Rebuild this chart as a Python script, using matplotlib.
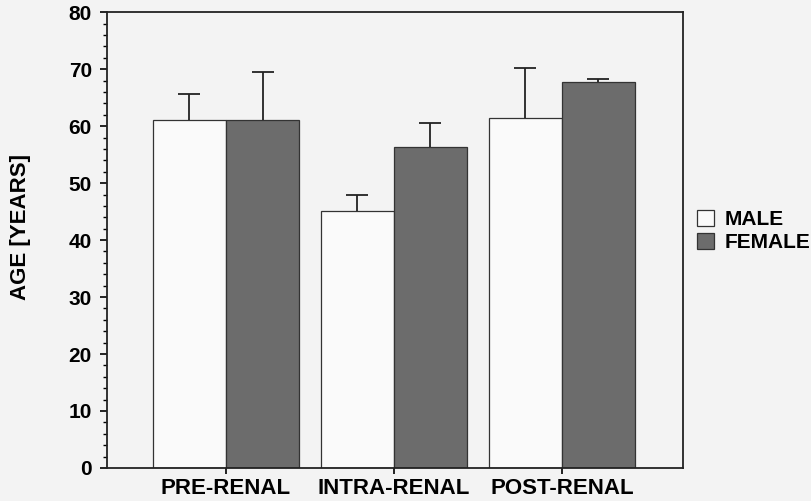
import numpy as np
import matplotlib
matplotlib.use("Agg")
from matplotlib import pyplot as plt
from matplotlib.ticker import MultipleLocator

# 数据
categories = ["PRE-RENAL", "INTRA-RENAL", "POST-RENAL"]
male = [61.1, 45.1, 61.4]
male_err = [4.5, 2.8, 8.8]
female = [61.1, 56.4, 67.7]
female_err = [8.4, 4.2, 0.6]

plt.rcParams["font.family"] = ["Liberation Sans", "DejaVu Sans"]
plt.rcParams["font.weight"] = "bold"

fig = plt.figure(figsize=(8.11, 5.01), dpi=100, facecolor="#f3f3f3")
ax = fig.add_axes([0.132, 0.066, 0.710, 0.9095])
ax.set_facecolor("#f3f3f3")

x = np.arange(len(categories))
w = 0.435
err_kw = dict(capsize=8, elinewidth=1.3, capthick=1.3, ecolor="#222222")
b1 = ax.bar(x - w / 2, male, w, yerr=[np.zeros(3), male_err], color="#fafafa",
            edgecolor="#333333", linewidth=0.9, error_kw=err_kw, label="MALE")
b2 = ax.bar(x + w / 2, female, w, yerr=[np.zeros(3), female_err], color="#6c6c6c",
            edgecolor="#333333", linewidth=0.9, error_kw=err_kw, label="FEMALE")
# 只保留上方的误差线帽
for b in (b1, b2):
    b.errorbar.lines[1][0].set_visible(False)

ax.set_xlim(-0.708, 2.72)
ax.set_ylim(0, 80)
ax.set_xticks(x)
ax.set_xticklabels(categories, fontsize=16, fontweight="bold")
ax.yaxis.set_major_locator(MultipleLocator(10))
ax.yaxis.set_minor_locator(MultipleLocator(2))
ax.tick_params(axis="y", which="major", length=5, width=1.2, labelsize=15, pad=6)
ax.tick_params(axis="y", which="minor", length=3, width=1.0)
ax.tick_params(axis="x", length=4, width=1.2, pad=3)
for s in ax.spines.values():
    s.set_linewidth(1.3)
    s.set_color("#222222")
ax.set_ylabel("AGE [YEARS]", fontsize=16, fontweight="bold")
ax.yaxis.set_label_coords(-0.132, 0.528)

leg = ax.legend(loc="center left", bbox_to_anchor=(1.01, 0.52), frameon=False,
                fontsize=15, handlelength=0.8, handleheight=0.8,
                handletextpad=0.55, labelspacing=0.2, borderaxespad=0)

fig.savefig("out.png", dpi=100, facecolor=fig.get_facecolor())
